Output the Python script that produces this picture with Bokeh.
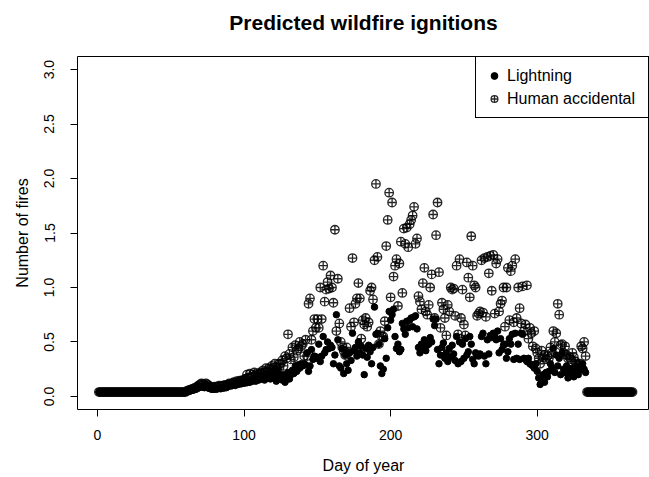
import math
from bokeh.plotting import figure
from bokeh.models import FixedTicker, PrintfTickFormatter, Range1d, Legend, LegendItem, ColumnDataSource, Title
from bokeh.embed import file_html
from bokeh.resources import INLINE

x_ticks = [0, 100, 200, 300]
y_ticks = [0.0, 0.5, 1.0, 1.5, 2.0, 2.5, 3.0]

day = list(range(1, 366))

lightning = [
    0.04, 0.04, 0.04, 0.04, 0.04, 0.04, 0.04, 0.04, 0.04, 0.04,
    0.04, 0.04, 0.04, 0.04, 0.04, 0.04, 0.04, 0.04, 0.04, 0.04,
    0.04, 0.04, 0.04, 0.04, 0.04, 0.04, 0.04, 0.04, 0.04, 0.04,
    0.04, 0.04, 0.04, 0.04, 0.04, 0.04, 0.04, 0.04, 0.04, 0.04,
    0.04, 0.04, 0.04, 0.04, 0.04, 0.04, 0.04, 0.04, 0.04, 0.04,
    0.04, 0.04, 0.04, 0.04, 0.04, 0.04, 0.04, 0.04, 0.04, 0.04,
    0.045, 0.05, 0.05, 0.055, 0.06, 0.06, 0.065, 0.07, 0.08, 0.085,
    0.09, 0.085, 0.08, 0.085, 0.08, 0.075, 0.07, 0.065, 0.065, 0.07,
    0.065, 0.07, 0.075, 0.07, 0.08, 0.075, 0.085, 0.08, 0.09, 0.10,
    0.095, 0.10, 0.11, 0.10, 0.115, 0.11, 0.12, 0.115, 0.125, 0.12,
    0.13, 0.125, 0.14, 0.13, 0.145, 0.14, 0.15, 0.14, 0.16, 0.15,
    0.17, 0.16, 0.18, 0.15, 0.19, 0.17, 0.20, 0.16, 0.22, 0.18,
    0.20, 0.14, 0.23, 0.19, 0.17, 0.15, 0.20, 0.13, 0.18, 0.22,
    0.16, 0.20, 0.24, 0.21, 0.28, 0.23, 0.29, 0.26, 0.30, 0.28,
    0.30, 0.29, 0.40, 0.23, 0.28, 0.43, 0.34, 0.37, 0.35, 0.36,
    0.48, 0.32, 0.37, 0.55, 0.40, 0.43, 0.50, 0.44, 0.47, 0.45,
    0.30, 0.38, 0.75, 0.52, 0.28, 0.26, 0.44, 0.21, 0.38, 0.30,
    0.24, 0.40, 0.33, 0.58, 0.42, 0.45, 0.37, 0.50, 0.40, 0.46,
    0.38, 0.20, 0.44, 0.36, 0.47, 0.41, 0.30, 0.45, 0.82, 0.57,
    0.58, 0.48, 0.28, 0.21, 0.25, 0.53, 0.35, 0.63, 0.78, 0.70,
    0.75, 0.80, 0.55, 0.44, 0.48, 0.41, 0.43, 0.67, 0.62, 0.57,
    0.69, 0.63, 0.70, 0.72, 0.64, 0.73, 0.74, 0.62, 0.45, 0.40,
    0.48, 0.44, 0.52, 0.42, 0.47, 0.48, 0.54, 0.50, 0.71, 0.65,
    0.71, 0.43, 0.30, 0.38, 0.45, 0.49, 0.35, 0.40, 0.32, 0.44,
    0.36, 0.47, 0.39, 0.33, 0.55, 0.30, 0.50, 0.32, 0.48, 0.35,
    0.53, 0.38, 0.41, 0.55, 0.48, 0.34, 0.30, 0.40, 0.38, 0.37,
    0.39, 0.55, 0.58, 0.37, 0.30, 0.52, 0.39, 0.56, 0.54, 0.58,
    0.55, 0.52, 0.60, 0.40, 0.53, 0.43, 0.47, 0.48, 0.35, 0.41,
    0.53, 0.48, 0.57, 0.34, 0.58, 0.35, 0.48, 0.34, 0.58, 0.57,
    0.35, 0.34, 0.32, 0.35, 0.30, 0.29, 0.28, 0.26, 0.30, 0.23,
    0.17, 0.11, 0.14, 0.20, 0.13, 0.22, 0.18, 0.23, 0.30, 0.26,
    0.44, 0.22, 0.38, 0.28, 0.35, 0.20, 0.40, 0.25, 0.22, 0.28,
    0.17, 0.24, 0.19, 0.26, 0.18, 0.22, 0.28, 0.20, 0.24, 0.27,
    0.30, 0.25, 0.22, 0.04, 0.04, 0.04, 0.04, 0.04, 0.04, 0.04,
    0.04, 0.04, 0.04, 0.04, 0.04, 0.04, 0.04, 0.04, 0.04, 0.04,
    0.04, 0.04, 0.04, 0.04, 0.04, 0.04, 0.04, 0.04, 0.04, 0.04,
    0.04, 0.04, 0.04, 0.04, 0.04,
]

human = [
    0.04, 0.04, 0.04, 0.04, 0.04, 0.04, 0.04, 0.04, 0.04, 0.04,
    0.04, 0.04, 0.04, 0.04, 0.04, 0.04, 0.04, 0.04, 0.04, 0.04,
    0.04, 0.04, 0.04, 0.04, 0.04, 0.04, 0.04, 0.04, 0.04, 0.04,
    0.04, 0.04, 0.04, 0.04, 0.04, 0.04, 0.04, 0.04, 0.04, 0.04,
    0.04, 0.04, 0.04, 0.04, 0.04, 0.04, 0.04, 0.04, 0.04, 0.04,
    0.04, 0.04, 0.04, 0.04, 0.04, 0.04, 0.04, 0.04, 0.04, 0.04,
    0.05, 0.055, 0.06, 0.065, 0.07, 0.075, 0.08, 0.09, 0.10, 0.11,
    0.12, 0.11, 0.10, 0.12, 0.11, 0.10, 0.09, 0.085, 0.08, 0.09,
    0.085, 0.09, 0.10, 0.09, 0.10, 0.095, 0.105, 0.10, 0.11, 0.12,
    0.115, 0.12, 0.13, 0.125, 0.14, 0.13, 0.145, 0.14, 0.15, 0.15,
    0.16, 0.20, 0.17, 0.21, 0.18, 0.20, 0.22, 0.19, 0.21, 0.20,
    0.22, 0.21, 0.24, 0.22, 0.26, 0.23, 0.26, 0.25, 0.28, 0.25,
    0.30, 0.27, 0.25, 0.30, 0.30, 0.33, 0.28, 0.37, 0.35, 0.57,
    0.39, 0.34, 0.45, 0.36, 0.47, 0.42, 0.44, 0.50, 0.46, 0.48,
    0.37, 0.52, 0.37, 0.85, 0.90, 0.52, 0.60, 0.71, 0.63, 0.71,
    0.63, 1.00, 0.71, 1.20, 0.87, 0.98, 1.05, 0.99, 1.11, 1.00,
    0.86, 1.53, 0.60, 1.08, 0.67, 0.50, 0.45, 0.42, 0.38, 0.45,
    0.40, 0.81, 0.64, 1.27, 0.68, 0.85, 0.90, 1.04, 0.90, 0.53,
    0.70, 0.66, 0.72, 0.64, 0.68, 0.97, 1.00, 0.89, 1.25, 1.95,
    1.28, 0.48, 0.60, 0.55, 0.55, 0.69, 1.38, 1.62, 1.87, 0.91,
    1.78, 1.10, 1.20, 1.26, 0.83, 1.22, 1.42, 0.95, 1.54, 1.40,
    1.55, 1.37, 1.58, 1.62, 1.66, 1.74, 1.40, 1.45, 0.92, 0.87,
    0.80, 1.04, 1.18, 0.78, 0.75, 0.84, 1.00, 1.12, 1.67, 0.72,
    1.48, 1.78, 1.14, 0.63, 0.86, 0.80, 0.72, 0.56, 0.84, 0.78,
    1.00, 0.98, 0.99, 0.74, 1.20, 0.57, 1.26, 0.72, 0.98, 0.66,
    0.56, 1.23, 1.09, 0.91, 1.47, 1.20, 1.02, 1.00, 0.74, 0.76,
    0.78, 1.25, 0.77, 1.27, 0.73, 1.28, 1.13, 1.29, 0.97, 1.30,
    0.76, 1.22, 1.26, 0.78, 0.85, 0.88, 1.00, 0.64, 1.00, 1.18,
    0.70, 1.15, 1.20, 0.68, 1.26, 0.72, 1.00, 0.81, 0.67, 1.01,
    0.60, 0.66, 1.02, 0.53, 0.63, 0.58, 0.46, 0.60, 0.44, 0.40,
    0.35, 0.30, 0.42, 0.36, 0.38, 0.34, 0.37, 0.35, 0.45, 0.40,
    0.60, 0.50, 0.58, 0.85, 0.75, 0.47, 0.48, 0.40, 0.46, 0.38,
    0.35, 0.36, 0.34, 0.40, 0.36, 0.32, 0.30, 0.29, 0.30, 0.46,
    0.44, 0.50, 0.37, 0.04, 0.04, 0.04, 0.04, 0.04, 0.04, 0.04,
    0.04, 0.04, 0.04, 0.04, 0.04, 0.04, 0.04, 0.04, 0.04, 0.04,
    0.04, 0.04, 0.04, 0.04, 0.04, 0.04, 0.04, 0.04, 0.04, 0.04,
    0.04, 0.04, 0.04, 0.04, 0.04,
]

FONT = "Liberation Sans"
TITLE = "Predicted wildfire ignitions"

src = ColumnDataSource(dict(day=day, lightning=lightning, human=human))

p = figure(width=649, height=477, output_backend="svg", toolbar_location=None,
           x_range=Range1d(-13.6, 376.6), y_range=Range1d(-0.12, 3.12),
           min_border_left=77, min_border_right=0, min_border_top=56, min_border_bottom=68,
           title=None)

p.background_fill_color = "white"
p.border_fill_color = "white"
p.xgrid.visible = False
p.ygrid.visible = False
p.outline_line_color = "black"
p.outline_line_width = 1
p.outline_line_alpha = 1

# spacer panel next to the frame, then the real title above it
spacer = Title(text=" ", text_font=FONT, text_font_size="10px", standoff=10,
               text_color="white")
main_title = Title(text=TITLE, text_font=FONT, text_font_size="21px",
                   text_font_style="bold", align="center", vertical_align="bottom",
                   standoff=0, text_color="black")
p.add_layout(spacer, "above")
p.add_layout(main_title, "above")

for ax in (p.xaxis, p.yaxis):
    ax.axis_line_color = None
    ax.major_tick_line_color = "black"
    ax.major_tick_out = 7
    ax.major_tick_in = 0
    ax.minor_tick_line_color = None
    ax.major_label_text_font = FONT
    ax.major_label_text_font_size = "14px"
    ax.major_label_text_color = "black"
    ax.axis_label_text_font = FONT
    ax.axis_label_text_font_size = "16px"
    ax.axis_label_text_font_style = "normal"
    ax.axis_label_text_color = "black"

p.xaxis.ticker = FixedTicker(ticks=x_ticks)
p.yaxis.ticker = FixedTicker(ticks=y_ticks)
p.yaxis.formatter = PrintfTickFormatter(format="%.1f")
p.yaxis.major_label_orientation = "vertical"
p.xaxis.axis_label = "Day of year"
p.yaxis.axis_label = "Number of fires"
p.xaxis.major_label_standoff = 13
p.xaxis.axis_label_standoff = 14
p.yaxis.major_label_standoff = 16
p.yaxis.axis_label_standoff = 11

r_h = p.scatter("day", "human", source=src, marker="circle_cross", size=8.5,
                fill_color=None, line_color="black", line_width=1.3, line_alpha=0.85)
r_l = p.scatter("day", "lightning", source=src, marker="circle", size=6.5,
                fill_color="black", line_color="black")

legend = Legend(items=[LegendItem(label="Lightning", renderers=[r_l]),
                       LegendItem(label="Human accidental", renderers=[r_h])],
                location="top_right", margin=0, padding=8, spacing=2,
                glyph_width=20, glyph_height=17, label_height=21, label_width=133,
                label_standoff=3, border_line_color="black", border_line_width=1,
                border_line_alpha=1,
                label_text_font=FONT, label_text_font_size="16px",
                label_text_color="black", background_fill_color="white",
                background_fill_alpha=1)
p.add_layout(legend)

open("out.html", "w").write(file_html(p, INLINE))
